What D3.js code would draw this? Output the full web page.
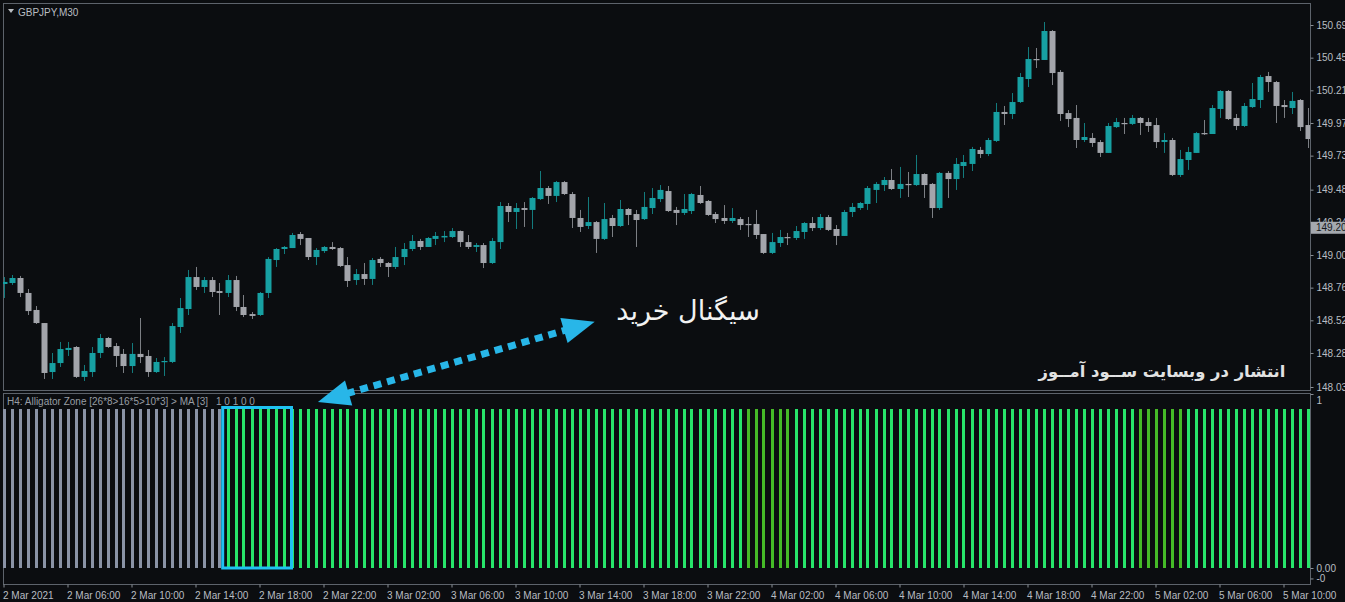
<!DOCTYPE html>
<html>
<head>
<meta charset="utf-8">
<script src="https://cdn.jsdelivr.net/npm/d3@7"></script>
<style>
html, body { margin: 0; padding: 0; background: #0b0d10; overflow: hidden; }
svg text { font-family: "Liberation Sans", Arial, sans-serif; }
</style>
</head>
<body>
<div id="chart"></div>
<script>
// GBPJPY M30 candles (bar index 0 = 2 Mar 00:00)
const opens = [
  148.787, 148.794, 148.831, 148.721, 148.596, 148.500, 148.140, 148.206, 148.302, 148.324,
  148.104, 148.140, 148.280, 148.390, 148.331, 148.273, 148.184, 148.273, 148.258, 148.140,
  148.214, 148.214, 148.471, 148.603, 148.838, 148.765, 148.816, 148.735, 148.721, 148.816,
  148.618, 148.566, 148.559, 148.721, 148.963, 149.044, 149.051, 149.154, 149.125, 148.985,
  149.029, 149.059, 149.051, 148.926, 148.816, 148.860, 148.824, 148.971, 148.941, 148.912,
  148.985, 149.044, 149.103, 149.059, 149.118, 149.129, 149.132, 149.176, 149.095, 149.059,
  149.073, 148.941, 149.095, 149.360, 149.316, 149.345, 149.331, 149.411, 149.492, 149.434,
  149.536, 149.448, 149.272, 149.213, 149.242, 149.118, 149.272, 149.213, 149.338, 149.301,
  149.264, 149.345, 149.411, 149.470, 149.331, 149.309, 149.323, 149.441, 149.397, 149.301,
  149.272, 149.250, 149.264, 149.228, 149.228, 149.154, 149.015, 149.088, 149.132, 149.125,
  149.169, 149.235, 149.198, 149.279, 149.191, 149.140, 149.316, 149.345, 149.375, 149.478,
  149.514, 149.551, 149.485, 149.522, 149.514, 149.595, 149.522, 149.345, 149.603, 149.558,
  149.654, 149.669, 149.772, 149.742, 149.838, 150.051, 150.036, 150.124, 150.293, 150.440,
  150.433, 150.646, 150.345, 150.043, 150.007, 149.845, 149.860, 149.830, 149.750, 149.940,
  149.970, 149.963, 150.007, 149.977, 149.955, 149.830, 149.845, 149.588, 149.698, 149.750,
  149.896, 149.889, 150.073, 150.205, 150.007, 149.948, 150.087, 150.139, 150.315, 150.271,
  150.102, 150.080, 150.139, 149.955
];
const highs = [
  148.838, 148.853, 148.846, 148.750, 148.625, 148.500, 148.280, 148.361, 148.361, 148.331,
  148.192, 148.324, 148.419, 148.397, 148.353, 148.309, 148.353, 148.537, 148.302, 148.243,
  148.250, 148.500, 148.684, 148.890, 148.912, 148.838, 148.838, 148.794, 148.853, 148.846,
  148.706, 148.581, 148.728, 148.985, 149.051, 149.066, 149.162, 149.169, 149.125, 149.051,
  149.066, 149.095, 149.059, 148.985, 148.897, 148.941, 148.978, 148.985, 148.948, 149.059,
  149.088, 149.147, 149.118, 149.132, 149.169, 149.176, 149.198, 149.180, 149.147, 149.088,
  149.088, 149.125, 149.389, 149.382, 149.382, 149.389, 149.426, 149.617, 149.507, 149.544,
  149.544, 149.463, 149.331, 149.426, 149.250, 149.382, 149.294, 149.404, 149.345, 149.331,
  149.463, 149.492, 149.514, 149.507, 149.353, 149.448, 149.456, 149.507, 149.404, 149.316,
  149.367, 149.345, 149.279, 149.279, 149.331, 149.154, 149.162, 149.184, 149.162, 149.213,
  149.242, 149.279, 149.301, 149.294, 149.220, 149.331, 149.382, 149.389, 149.507, 149.536,
  149.573, 149.632, 149.647, 149.610, 149.735, 149.600, 149.529, 149.610, 149.617, 149.713,
  149.735, 149.794, 149.794, 149.860, 150.117, 150.095, 150.190, 150.337, 150.528, 150.521,
  150.712, 150.653, 150.359, 150.065, 150.102, 149.970, 149.896, 149.845, 149.970, 150.007,
  150.007, 150.029, 150.014, 150.007, 150.007, 149.896, 149.860, 149.772, 149.794, 149.904,
  149.992, 150.102, 150.212, 150.212, 150.036, 150.117, 150.264, 150.323, 150.345, 150.279,
  150.139, 150.198, 150.146, 150.080
];
const lows = [
  148.684, 148.780, 148.691, 148.559, 148.493, 148.089, 148.089, 148.177, 148.258, 148.096,
  148.074, 148.104, 148.243, 148.317, 148.177, 148.133, 148.133, 148.206, 148.104, 148.133,
  148.111, 148.206, 148.427, 148.559, 148.743, 148.721, 148.691, 148.559, 148.691, 148.588,
  148.544, 148.530, 148.552, 148.684, 148.912, 149.007, 149.051, 149.073, 148.963, 148.926,
  149.015, 149.037, 148.912, 148.765, 148.780, 148.780, 148.780, 148.912, 148.838, 148.897,
  148.926, 149.029, 149.037, 149.059, 149.073, 149.095, 149.125, 149.059, 149.044, 149.022,
  148.904, 148.934, 149.044, 149.242, 149.191, 149.206, 149.191, 149.404, 149.375, 149.389,
  149.441, 149.198, 149.169, 149.191, 149.015, 149.110, 149.132, 149.206, 149.220, 149.059,
  149.257, 149.301, 149.389, 149.316, 149.220, 149.294, 149.301, 149.375, 149.287, 149.235,
  149.228, 149.235, 149.184, 149.132, 149.118, 149.007, 149.007, 149.059, 149.073, 149.110,
  149.118, 149.176, 149.184, 149.176, 149.073, 149.140, 149.279, 149.331, 149.331, 149.382,
  149.470, 149.478, 149.419, 149.426, 149.507, 149.419, 149.272, 149.331, 149.419, 149.478,
  149.566, 149.617, 149.713, 149.727, 149.830, 149.955, 149.999, 150.117, 150.234, 150.374,
  150.433, 150.249, 149.985, 149.940, 149.786, 149.830, 149.794, 149.720, 149.750, 149.933,
  149.889, 149.955, 149.882, 149.904, 149.786, 149.750, 149.580, 149.573, 149.625, 149.750,
  149.882, 149.889, 150.007, 149.992, 149.918, 149.940, 150.080, 150.080, 150.198, 149.970,
  150.007, 150.036, 149.911, 149.786
];
const closes = [
  148.802, 148.831, 148.721, 148.588, 148.500, 148.133, 148.206, 148.309, 148.317, 148.104,
  148.148, 148.280, 148.390, 148.324, 148.258, 148.184, 148.273, 148.250, 148.140, 148.214,
  148.221, 148.478, 148.610, 148.838, 148.765, 148.816, 148.728, 148.721, 148.816, 148.618,
  148.559, 148.552, 148.721, 148.971, 149.044, 149.059, 149.147, 149.118, 148.985, 149.037,
  149.059, 149.044, 148.919, 148.809, 148.860, 148.824, 148.963, 148.941, 148.912, 148.985,
  149.044, 149.103, 149.059, 149.125, 149.140, 149.140, 149.176, 149.095, 149.059, 149.073,
  148.941, 149.103, 149.360, 149.316, 149.345, 149.331, 149.419, 149.492, 149.434, 149.536,
  149.448, 149.272, 149.206, 149.242, 149.118, 149.264, 149.213, 149.338, 149.294, 149.257,
  149.353, 149.419, 149.478, 149.323, 149.309, 149.338, 149.448, 149.382, 149.294, 149.264,
  149.250, 149.272, 149.220, 149.220, 149.147, 149.015, 149.095, 149.132, 149.125, 149.176,
  149.235, 149.198, 149.279, 149.184, 149.140, 149.316, 149.353, 149.382, 149.492, 149.522,
  149.551, 149.485, 149.522, 149.514, 149.595, 149.514, 149.345, 149.603, 149.558, 149.669,
  149.683, 149.779, 149.742, 149.845, 150.051, 150.036, 150.124, 150.308, 150.440, 150.433,
  150.646, 150.337, 150.036, 149.999, 149.845, 149.867, 149.823, 149.750, 149.948, 149.977,
  149.963, 150.007, 149.970, 149.948, 149.830, 149.845, 149.588, 149.705, 149.757, 149.896,
  149.889, 150.080, 150.205, 149.999, 149.948, 150.095, 150.146, 150.308, 150.271, 150.095,
  150.087, 150.132, 149.940, 149.852
];

// Alligator Zone state per bar: 0 = neutral (grey), 1 = buy zone, 2 = weak buy zone
const zoneState = [
  0, 0, 0, 0, 0, 0, 0, 0, 0, 0, 0, 0, 0, 0, 0, 0, 0, 0, 0, 0,
  0, 0, 0, 0, 0, 0, 0, 0, 1, 1, 1, 1, 1, 1, 1, 1, 1, 1, 1, 1,
  1, 1, 1, 1, 1, 1, 1, 1, 1, 1, 1, 1, 1, 1, 1, 1, 1, 1, 1, 1,
  1, 1, 1, 1, 1, 1, 1, 1, 1, 1, 1, 1, 1, 1, 1, 1, 1, 1, 1, 1,
  1, 1, 1, 1, 1, 1, 1, 1, 1, 1, 1, 1, 1, 2, 2, 2, 2, 2, 2, 1,
  1, 1, 1, 1, 1, 1, 1, 1, 1, 1, 1, 1, 1, 1, 1, 1, 1, 1, 1, 1,
  1, 1, 1, 1, 1, 1, 1, 1, 1, 1, 1, 1, 1, 1, 1, 1, 1, 1, 1, 1,
  1, 1, 2, 2, 2, 2, 2, 2, 1, 1, 1, 1, 1, 1, 1, 1, 1, 1, 1, 1,
  1, 1, 1, 1
];
const zoneValue = 1;
const zoneParams = 'H4: Alligator Zone [26*8>16*5>10*3] > MA [3]';
const zoneFlags = '1 0 1 0 0';

const priceTicks = [150.69, 150.45, 150.21, 149.97, 149.73, 149.48, 149.24, 149.00, 148.76, 148.52, 148.28, 148.03];
const currentPrice = 149.20;

const timeTickIdx = [0, 8, 16, 24, 32, 40, 48, 56, 64, 72, 80, 88, 96, 104, 112, 120, 128, 136, 144, 152, 160];
const timeLabels = ['2 Mar 2021', '2 Mar 06:00', '2 Mar 10:00', '2 Mar 14:00', '2 Mar 18:00', '2 Mar 22:00',
  '3 Mar 02:00', '3 Mar 06:00', '3 Mar 10:00', '3 Mar 14:00', '3 Mar 18:00', '3 Mar 22:00',
  '4 Mar 02:00', '4 Mar 06:00', '4 Mar 10:00', '4 Mar 14:00', '4 Mar 18:00', '4 Mar 22:00',
  '5 Mar 02:00', '5 Mar 06:00', '5 Mar 10:00'];

// annotations (bar index / price positions)
const signalBox = { from: 27.4, to: 36 };
const arrowFrom = { i: 39.3, price: 147.92 };
const arrowTo = { i: 73.9, price: 148.51 };

function drawChart() {
  let width = 1345, height = 602;
  let paneLeft = 3, paneRight = 1310;
  let mainTop = 3, mainBottom = 390, subTop = 393, subBottom = 584;

  let bullColor = '#17a0a2', bearColor = '#a3a5ab';
  let zoneColors = ['#8a93a6', '#27e56a', '#45ba27'];
  let textColor = '#b9bdc2';

  let xScale = d3.scaleLinear().domain([0, opens.length - 1]).range([3.5, 1307.5]);
  let yScale = d3.scaleLinear().domain([148.03, 150.69]).range([387, 25]);
  let zScale = d3.scaleLinear().domain([0, 1]).range([568, 409]);
  let zAxisScale = d3.scaleLinear().domain([0, 1]).range([568, 394]);

  let svg = d3.select('#chart').append('svg')
    .attr('width', width).attr('height', height);

  svg.append('rect').attr('width', width).attr('height', height).attr('fill', '#0b0d10');

  let defs = svg.append('defs');
  defs.append('clipPath').attr('id', 'mainClip').append('rect')
    .attr('x', paneLeft).attr('y', mainTop).attr('width', paneRight - paneLeft).attr('height', mainBottom - mainTop);
  defs.append('clipPath').attr('id', 'subClip').append('rect')
    .attr('x', paneLeft).attr('y', subTop).attr('width', paneRight - paneLeft).attr('height', subBottom - subTop);

  // pane frames
  svg.append('rect').attr('x', paneLeft + 0.5).attr('y', mainTop + 0.5)
    .attr('width', paneRight - paneLeft).attr('height', mainBottom - mainTop)
    .attr('fill', 'none').attr('stroke', '#5d636b');
  svg.append('rect').attr('x', paneLeft + 0.5).attr('y', subTop + 0.5)
    .attr('width', paneRight - paneLeft).attr('height', subBottom - subTop)
    .attr('fill', 'none').attr('stroke', '#5d636b');

  // candles
  let bars = d3.range(opens.length).map(i => ({ i: i, o: opens[i], h: highs[i], l: lows[i], c: closes[i] }));
  let candles = svg.append('g').attr('clip-path', 'url(#mainClip)');
  candles.selectAll('line.wick').data(bars).enter().append('line')
    .attr('class', 'wick')
    .attr('x1', d => Math.round(xScale(d.i)) + 0.5)
    .attr('x2', d => Math.round(xScale(d.i)) + 0.5)
    .attr('y1', d => yScale(d.h))
    .attr('y2', d => yScale(d.l))
    .attr('stroke', d => d.c >= d.o ? bullColor : bearColor)
    .attr('stroke-opacity', 0.75)
    .attr('stroke-width', 1);
  candles.selectAll('rect.body').data(bars).enter().append('rect')
    .attr('class', 'body')
    .attr('x', d => Math.round(xScale(d.i)) - 2.5)
    .attr('width', 6)
    .attr('y', d => yScale(Math.max(d.o, d.c)))
    .attr('height', d => Math.max(1.2, Math.abs(yScale(d.o) - yScale(d.c))))
    .attr('fill', d => d.c >= d.o ? bullColor : bearColor);

  // price axis
  let priceAxis = svg.append('g').attr('transform', `translate(${paneRight + 0.5},0)`)
    .call(d3.axisRight(yScale).tickValues(priceTicks).tickFormat(d3.format('.2f')).tickSize(3).tickPadding(3));
  priceAxis.select('.domain').remove();
  priceAxis.selectAll('line').attr('stroke', '#8a9096');
  priceAxis.selectAll('text').attr('fill', textColor).style('font-size', '10px');

  // current price tag
  svg.append('rect').attr('x', paneRight + 1).attr('y', yScale(currentPrice) - 6)
    .attr('width', width - paneRight).attr('height', 12).attr('fill', '#a4a8ae');
  svg.append('text').attr('x', paneRight + 6).attr('y', yScale(currentPrice))
    .attr('dy', '0.35em').attr('fill', '#15181c').style('font-size', '10px')
    .text(d3.format('.2f')(currentPrice));

  // symbol caption
  svg.append('path').attr('d', 'M8,9 L14,9 L11,13 Z').attr('fill', '#b9bdc2');
  svg.append('text').attr('x', 18).attr('y', 12).attr('dy', '0.35em')
    .attr('fill', textColor).style('font-size', '10px').text('GBPJPY,M30');

  // indicator histogram
  let sub = svg.append('g').attr('clip-path', 'url(#subClip)');
  sub.selectAll('rect.zone').data(zoneState).enter().append('rect')
    .attr('class', 'zone')
    .attr('x', (d, i) => Math.round(xScale(i)) - 1)
    .attr('width', 3)
    .attr('y', zScale(zoneValue))
    .attr('height', zScale(0) - zScale(zoneValue))
    .attr('fill', d => zoneColors[d]);

  let caption = svg.append('text').attr('y', 401).attr('dy', '0.35em')
    .attr('fill', '#979da4').style('font-size', '10px');
  caption.append('tspan').attr('x', 7).text(zoneParams);
  caption.append('tspan').attr('x', 216).text(zoneFlags);

  // indicator axis
  let zLabels = { '1': '1', '0': '0.00', '-0.06': '-0' };
  let zAxis = svg.append('g').attr('transform', `translate(${paneRight + 0.5},0)`)
    .call(d3.axisRight(zAxisScale).tickValues([1, 0, -0.06]).tickFormat(d => zLabels[String(d)]).tickSize(3).tickPadding(3));
  zAxis.select('.domain').remove();
  zAxis.selectAll('line').attr('stroke', '#8a9096');
  zAxis.selectAll('text').attr('fill', textColor).style('font-size', '10px')
    .attr('dy', d => d === 1 ? '0.9em' : '0.32em');

  // time axis
  let timeAxis = svg.append('g').attr('transform', `translate(0,${subBottom + 0.5})`)
    .call(d3.axisBottom(xScale).tickValues(timeTickIdx).tickFormat((d, i) => timeLabels[i]).tickSize(3).tickPadding(4));
  timeAxis.select('.domain').remove();
  timeAxis.selectAll('line').attr('stroke', '#8a9096');
  timeAxis.selectAll('text').attr('fill', textColor).style('font-size', '10px')
    .attr('text-anchor', 'start').attr('x', -1);

  // signal box
  svg.append('rect')
    .attr('x', xScale(signalBox.from)).attr('y', zScale(zoneValue) - 1.5)
    .attr('width', xScale(signalBox.to) - xScale(signalBox.from))
    .attr('height', zScale(0) - zScale(zoneValue) + 1.5)
    .attr('fill', 'none').attr('stroke', '#1fc2f2').attr('stroke-width', 3);

  // double-headed dotted arrow
  let p0 = [xScale(arrowFrom.i), yScale(arrowFrom.price)];
  let p1 = [xScale(arrowTo.i), yScale(arrowTo.price)];
  let dx = p1[0] - p0[0], dy = p1[1] - p0[1];
  let len = Math.sqrt(dx * dx + dy * dy);
  let ux = dx / len, uy = dy / len, px = -uy, py = ux;
  let headLen = 32, headW = 13;
  let arrowColor = '#28b6e8';
  let head = (tip, dir) => {
    let bx = tip[0] + dir * headLen * ux, by = tip[1] + dir * headLen * uy;
    return [[tip[0], tip[1]], [bx + headW * px, by + headW * py], [bx - headW * px, by - headW * py]];
  };
  svg.append('line')
    .attr('x1', p0[0] + (headLen - 2) * ux).attr('y1', p0[1] + (headLen - 2) * uy)
    .attr('x2', p1[0] - (headLen - 2) * ux).attr('y2', p1[1] - (headLen - 2) * uy)
    .attr('stroke', arrowColor).attr('stroke-width', 7).attr('stroke-dasharray', '8 6');
  svg.selectAll('path.head').data([head(p0, 1), head(p1, -1)]).enter().append('path')
    .attr('class', 'head')
    .attr('d', d => 'M' + d.join('L') + 'Z')
    .attr('fill', arrowColor);

  // Persian captions
  svg.append('text').attr('x', 688).attr('y', 320)
    .attr('text-anchor', 'middle').attr('fill', '#f2f2f2')
    .style('font-family', '"DejaVu Sans", sans-serif').style('font-size', '27px')
    .text('سیگنال خرید');
  svg.append('text').attr('x', 1162).attr('y', 377)
    .attr('text-anchor', 'middle').attr('fill', '#e2e2e2')
    .style('font-family', '"DejaVu Sans", sans-serif').style('font-size', '16.4px').style('font-weight', 'bold')
    .text('انتشار در وبسایت ســود آمــوز');
}

drawChart();
</script>
</body>
</html>
